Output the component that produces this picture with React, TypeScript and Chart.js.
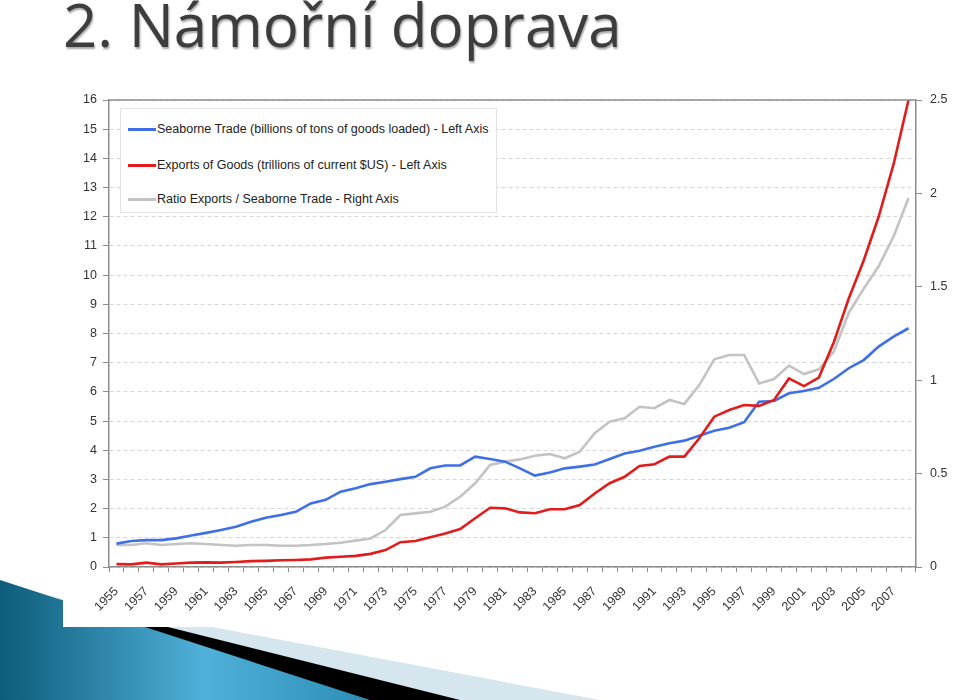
import React, { useEffect, useRef } from "react";
import { Chart, registerables } from "chart.js";

Chart.register(...registerables);

const years = [
  "1955", "1956", "1957", "1958", "1959", "1960", "1961", "1962", "1963", "1964",
  "1965", "1966", "1967", "1968", "1969", "1970", "1971", "1972", "1973", "1974",
  "1975", "1976", "1977", "1978", "1979", "1980", "1981", "1982", "1983", "1984",
  "1985", "1986", "1987", "1988", "1989", "1990", "1991", "1992", "1993", "1994",
  "1995", "1996", "1997", "1998", "1999", "2000", "2001", "2002", "2003", "2004",
  "2005", "2006", "2007", "2008",
];

const seaborneTrade = [
  0.8, 0.89, 0.92, 0.92, 0.98, 1.08, 1.17, 1.27, 1.38, 1.55,
  1.69, 1.78, 1.89, 2.18, 2.3, 2.58, 2.7, 2.84, 2.92, 3.01,
  3.09, 3.38, 3.48, 3.48, 3.78, 3.7, 3.61, 3.38, 3.13, 3.24,
  3.38, 3.44, 3.51, 3.7, 3.89, 3.98, 4.12, 4.24, 4.33, 4.5,
  4.67, 4.77, 4.96, 5.66, 5.69, 5.95, 6.03, 6.14, 6.44, 6.81,
  7.09, 7.55, 7.89, 8.18,
];

const exportsOfGoods = [
  0.1, 0.09, 0.15, 0.09, 0.12, 0.15, 0.16, 0.15, 0.17, 0.2,
  0.21, 0.23, 0.24, 0.26, 0.32, 0.35, 0.38, 0.45, 0.58, 0.85,
  0.89, 1.02, 1.15, 1.3, 1.67, 2.03, 2.01, 1.87, 1.84, 1.98,
  1.98, 2.12, 2.52, 2.87, 3.09, 3.46, 3.52, 3.78, 3.78, 4.41,
  5.15, 5.38, 5.55, 5.52, 5.72, 6.46, 6.2, 6.49, 7.7, 9.2,
  10.5, 12.0, 13.8, 16.0,
];

const ratioExportsTrade = [
  0.118, 0.118, 0.127, 0.118, 0.123, 0.127, 0.123, 0.118, 0.114, 0.118,
  0.118, 0.114, 0.114, 0.118, 0.123, 0.13, 0.141, 0.153, 0.198, 0.278,
  0.287, 0.296, 0.323, 0.376, 0.448, 0.546, 0.564, 0.576, 0.596, 0.605,
  0.582, 0.617, 0.716, 0.778, 0.796, 0.858, 0.85, 0.894, 0.873, 0.974,
  1.112, 1.135, 1.135, 0.983, 1.006, 1.078, 1.033, 1.058, 1.153, 1.36,
  1.49, 1.61, 1.77, 1.975,
];

const seriesLabels = [
  "Seaborne Trade (billions of tons of goods loaded) - Left Axis",
  "Exports of Goods (trillions of current $US) - Left Axis",
  "Ratio Exports / Seaborne Trade - Right Axis",
];

const seriesColors = ["#3f6fe6", "#e21b1b", "#c4c2c2"];

const titleText = "2. Námořní doprava";

const FONT = "'Liberation Sans', Arial, sans-serif";

const topBorderPlugin = {
  id: "topBorder",
  afterDraw(chart: any) {
    const { ctx, chartArea } = chart;
    ctx.save();
    ctx.strokeStyle = "#8c8c8c";
    ctx.lineWidth = 1.5;
    ctx.beginPath();
    ctx.moveTo(chartArea.left, chartArea.top);
    ctx.lineTo(chartArea.right, chartArea.top);
    ctx.stroke();
    ctx.restore();
  },
};

function ChartBox() {
  const ref = useRef<HTMLCanvasElement | null>(null);
  useEffect(() => {
    if (!ref.current) return;
    const chart = new Chart(ref.current, {
      type: "line",
      data: {
        labels: years,
        datasets: [
          {
            label: seriesLabels[0],
            data: seaborneTrade,
            borderColor: seriesColors[0],
            backgroundColor: seriesColors[0],
            borderWidth: 2.6,
            pointRadius: 0,
            yAxisID: "y",
            order: 2,
          },
          {
            label: seriesLabels[1],
            data: exportsOfGoods,
            borderColor: seriesColors[1],
            backgroundColor: seriesColors[1],
            borderWidth: 2.6,
            pointRadius: 0,
            yAxisID: "y",
            order: 1,
          },
          {
            label: seriesLabels[2],
            data: ratioExportsTrade,
            borderColor: seriesColors[2],
            backgroundColor: seriesColors[2],
            borderWidth: 2.6,
            pointRadius: 0,
            yAxisID: "y1",
            order: 3,
          },
        ],
      },
      options: {
        animation: false,
        responsive: false,
        maintainAspectRatio: false,
        layout: { padding: { top: 20, left: 0, right: 0, bottom: 0 } },
        plugins: {
          legend: { display: false },
          tooltip: { enabled: false },
        },
        scales: {
          x: {
            type: "category",
            offset: true,
            grid: {
              offset: true,
              drawOnChartArea: false,
              drawTicks: true,
              tickLength: 5,
              color: "#8c8c8c",
              tickColor: "#8c8c8c",
            },
            border: { color: "#8c8c8c", width: 1.5 },
            ticks: {
              autoSkip: false,
              maxRotation: 45,
              minRotation: 45,
              padding: 12,
              color: "#333333",
              font: { family: FONT, size: 12.5 },
              callback: (_v: any, i: number) => (i % 2 === 0 ? years[i] : ""),
            },
            afterFit: (scale: any) => {
              scale.height = 60;
            },
          },
          y: {
            type: "linear",
            position: "left",
            min: 0,
            max: 16,
            ticks: {
              stepSize: 1,
              padding: 6,
              color: "#333333",
              font: { family: FONT, size: 12.5 },
            },
            grid: {
              color: "#d6d6d6",
              tickColor: "#8c8c8c",
              tickLength: 6,
              lineWidth: 1,
            },
            border: { color: "#8c8c8c", width: 1.5, dash: [4, 3] },
            afterFit: (scale: any) => {
              scale.width = 46;
            },
          },
          y1: {
            type: "linear",
            position: "right",
            min: 0,
            max: 2.5,
            ticks: {
              stepSize: 0.5,
              padding: 8,
              color: "#333333",
              font: { family: FONT, size: 12.5 },
              callback: (v: any) => String(Number(v)),
            },
            grid: {
              drawOnChartArea: false,
              tickColor: "#8c8c8c",
              tickLength: 6,
            },
            border: { color: "#8c8c8c", width: 1.5 },
            afterFit: (scale: any) => {
              scale.width = 44;
            },
          },
        },
      },
      plugins: [topBorderPlugin],
    });
    return () => chart.destroy();
  }, []);
  return <canvas ref={ref} width={897} height={547} style={{ display: "block" }} />;
}

export default function App() {
  return (
    <div
      style={{
        position: "absolute",
        left: 0,
        top: 0,
        width: 960,
        height: 700,
        overflow: "hidden",
        background: "#ffffff",
      }}
    >
      <svg
        width={960}
        height={700}
        style={{ position: "absolute", left: 0, top: 0 }}
      >
        <defs>
          <linearGradient id="blueGrad" x1="0" y1="0" x2="1" y2="0">
            <stop offset="0" stopColor="#0d5c7a" />
            <stop offset="0.55" stopColor="#4fb0d9" />
            <stop offset="1" stopColor="#2c8db6" />
          </linearGradient>
        </defs>
        <polygon points="0,587 600,700 0,700" fill="#d6e6ee" />
        <polygon points="0,585 460,700 0,700" fill="#000000" />
        <polygon points="0,580 370,700 0,700" fill="url(#blueGrad)" />
      </svg>
      <div
        style={{
          position: "absolute",
          left: 63,
          top: 80,
          width: 897,
          height: 547,
          background: "#ffffff",
        }}
      >
        <ChartBox />
      </div>
      <div
        style={{
          position: "absolute",
          left: 120,
          top: 108,
          width: 377,
          height: 105,
          boxSizing: "border-box",
          border: "1px solid #e3e3e3",
          background: "#ffffff",
          fontFamily: FONT,
          fontSize: 12.5,
          color: "#222222",
        }}
      >
        {seriesLabels.map((lab, i) => (
          <div
            key={lab}
            style={{
              position: "absolute",
              left: 7,
              top: [20, 56, 90][i] - 8,
              height: 16,
              display: "flex",
              alignItems: "center",
              whiteSpace: "nowrap",
            }}
          >
            <span
              style={{
                display: "inline-block",
                width: 28,
                height: 3,
                background: seriesColors[i],
                marginRight: 1,
              }}
            />
            <span>{lab}</span>
          </div>
        ))}
      </div>
      <div
        style={{
          position: "absolute",
          left: 63,
          top: -11,
          fontFamily: "'Open Sans', Lato, sans-serif",
          fontSize: 60,
          lineHeight: "70px",
          color: "#3d3d3d",
          whiteSpace: "nowrap",
          textShadow: "1px 2px 2px rgba(0,0,0,0.35)",
        }}
      >
        {titleText}
      </div>
    </div>
  );
}
